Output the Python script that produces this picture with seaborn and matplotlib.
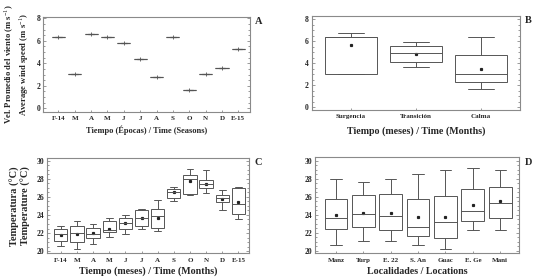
import numpy as np
import pandas as pd
import matplotlib
matplotlib.use("Agg")
import matplotlib.pyplot as plt
import seaborn as sns
from matplotlib.ticker import MultipleLocator

# ---------------- data ----------------
months = ["F-14", "M", "A", "M ", "J", "J ", "A ", "S", "O", "N", "D", "E-15"]
wind_speed = [6.37, 3.05, 6.64, 6.34, 5.81, 4.41, 2.76, 6.34, 1.66, 3.05, 3.59, 5.27]

seasons = ["Surgencia", "Transición", "Calma"]
b_whislo = [3.05, 3.66, 1.69]
b_q1 = [3.05, 4.08, 2.27]
b_med = [6.35, 4.89, 2.99]
b_q3 = [6.40, 5.59, 4.74]
b_whishi = [6.70, 5.89, 6.40]
b_mean = [5.62, 4.83, 3.47]

c_whislo = [20.55, 20.20, 20.80, 21.60, 21.90, 22.40, 22.20, 25.50, 26.15, 26.45, 24.60, 23.60]
c_q1 = [21.10, 21.00, 21.45, 22.10, 22.50, 22.75, 22.60, 25.85, 26.30, 26.95, 25.45, 24.05]
c_med = [21.85, 21.95, 21.85, 22.30, 23.10, 23.70, 23.85, 26.50, 28.00, 27.45, 25.85, 25.20]
c_q3 = [22.50, 22.75, 22.60, 23.35, 23.70, 24.55, 24.65, 26.90, 28.45, 27.90, 26.15, 27.00]
c_whishi = [22.77, 23.35, 23.00, 23.70, 23.95, 24.65, 25.70, 27.10, 29.10, 29.00, 26.75, 27.10]
c_mean = [21.80, 21.90, 21.95, 22.50, 23.10, 23.65, 23.70, 26.50, 27.70, 27.45, 25.80, 25.40]

locations = ["Manz", "Turp", "E. 22", "S. An", "Guac", "E. Ge", "Mani"]
d_whislo = [20.60, 21.04, 21.04, 20.67, 20.15, 22.30, 22.30]
d_q1 = [22.44, 22.67, 22.33, 21.63, 21.44, 23.26, 23.67]
d_med = [23.63, 24.07, 23.85, 22.67, 23.22, 24.37, 25.26]
d_q3 = [25.78, 26.15, 26.30, 25.78, 26.07, 26.90, 27.04]
d_whishi = [27.93, 27.60, 27.93, 28.50, 29.00, 29.15, 29.00]
d_mean = [24.00, 24.20, 24.20, 23.70, 23.74, 25.04, 25.48]


def five_num_table(cats, lo, q1, med, q3, hi):
    rows = []
    for i, c in enumerate(cats):
        for v in (lo[i], q1[i], med[i], q3[i], hi[i]):
            rows.append((c, v))
    return pd.DataFrame(rows, columns=["cat", "val"])


# ---------------- style ----------------
sns.set_theme(style="white")
plt.rcParams["font.family"] = ["Liberation Serif", "DejaVu Serif"]
plt.rcParams["mathtext.fontset"] = "custom"
plt.rcParams["mathtext.rm"] = "Liberation Serif"
plt.rcParams["mathtext.bf"] = "Liberation Serif:bold"

BOXC = "#555555"
SPC = "#8a8a8a"
box_kw = dict(color="white", linecolor=BOXC, linewidth=0.7, whis=(0, 100),
              fliersize=0, showcaps=True)
mean_kw = dict(marker="s", markersize=1.3, markerfacecolor="#222222",
               markeredgecolor="#222222")

fig = plt.figure(figsize=(5.41, 2.80), dpi=100)
axA = fig.add_axes([0.080, 0.601, 0.382, 0.339])
axB = fig.add_axes([0.576, 0.607, 0.385, 0.337])
axC = fig.add_axes([0.0863, 0.095, 0.3747, 0.340])
axD = fig.add_axes([0.582, 0.095, 0.378, 0.343])


def style_ax(ax, minor):
    for s in ax.spines.values():
        s.set_color(SPC)
        s.set_linewidth(0.8)
    ax.yaxis.set_minor_locator(MultipleLocator(minor))
    ax.tick_params(axis="y", which="both", direction="in", left=True, right=True,
                   color=SPC, width=0.6, labelsize=5.5, pad=2)
    ax.tick_params(axis="y", which="major", length=2.5)
    ax.tick_params(axis="y", which="minor", length=1.5)
    ax.tick_params(axis="x", which="major", direction="in", bottom=True, length=1.5,
                   color=SPC, width=0.6, labelsize=5, pad=3)
    for lab in ax.get_xticklabels():
        lab.set_fontweight("bold")
    for lab in ax.get_yticklabels():
        lab.set_fontweight("bold")


# ---- Panel A ----
dfA = pd.DataFrame({"cat": months, "val": wind_speed})
sns.boxplot(data=dfA, x="cat", y="val", ax=axA, width=0.8, showmeans=True,
            meanprops=dict(marker="+", markersize=2.5, markeredgecolor=BOXC,
                           markeredgewidth=0.6),
            color="white", linecolor=BOXC, linewidth=0.8, fliersize=0)
axA.set_xlim(-0.92, 11.71)
axA.set_ylim(-0.3, 8.14)
axA.set_yticks([0, 2, 4, 6, 8])
axA.set_xticks(range(len(months)))
axA.set_xticklabels([m.strip() for m in months])
axA.set_xlabel("Tiempo (Épocas) / Time (Seasons)", fontsize=6, fontweight="bold", labelpad=3)
axA.set_ylabel("Vel. Promedio del viento (m s$^{-1}$)\nAverage wind speed (m s$^{-1}$)",
               fontsize=6.2, fontweight="bold", labelpad=4, linespacing=1.15)
style_ax(axA, 0.5)

# ---- Panel B ----
dfB = five_num_table(seasons, b_whislo, b_q1, b_med, b_q3, b_whishi)
sns.boxplot(data=dfB, x="cat", y="val", ax=axB, width=0.8, **box_kw)
axB.plot(range(len(seasons)), b_mean, linestyle="none", **mean_kw)
axB.set_xlim(-0.6, 2.6)
axB.set_ylim(-0.25, 8.3)
axB.set_yticks([0, 2, 4, 6, 8])
axB.set_xlabel("Tiempo (meses) / Time (Months)", fontsize=7.2, fontweight="bold", labelpad=5)
axB.set_ylabel("")
style_ax(axB, 0.5)

# ---- Panel C ----
dfC = five_num_table(months, c_whislo, c_q1, c_med, c_q3, c_whishi)
sns.boxplot(data=dfC, x="cat", y="val", ax=axC, width=0.82, **box_kw)
axC.plot(range(len(months)), c_mean, linestyle="none", **mean_kw)
axC.set_xlim(-0.87, 11.68)
axC.set_ylim(19.75, 30.27)
axC.set_yticks([20, 22, 24, 26, 28, 30])
axC.set_xticks(range(len(months)))
axC.set_xticklabels([m.strip() for m in months])
axC.set_xlabel("Tiempo (meses) / Time (Months)", fontsize=7.2, fontweight="bold", labelpad=3)
axC.set_ylabel("Temperatura (°C)\nTemperature (°C)", fontsize=7.5, fontweight="bold",
               labelpad=4, linespacing=1.1)
style_ax(axC, 0.5)

# ---- Panel D ----
dfD = five_num_table(locations, d_whislo, d_q1, d_med, d_q3, d_whishi)
sns.boxplot(data=dfD, x="cat", y="val", ax=axD, width=0.83, **box_kw)
axD.plot(range(len(locations)), d_mean, linestyle="none", **mean_kw)
axD.set_xlim(-0.77, 6.7)
axD.set_ylim(19.7, 30.38)
axD.set_yticks([20, 22, 24, 26, 28, 30])
axD.set_xlabel("Localidades / Locations", fontsize=7.2, fontweight="bold", labelpad=3)
axD.set_ylabel("")
style_ax(axD, 0.5)

# panel letters
for ax, letter in [(axA, "A"), (axB, "B"), (axC, "C"), (axD, "D")]:
    ax.text(1.025, 0.95, letter, transform=ax.transAxes, fontsize=7.5,
            fontweight="bold", ha="left", va="center")

fig.savefig("out.png", dpi=100)
